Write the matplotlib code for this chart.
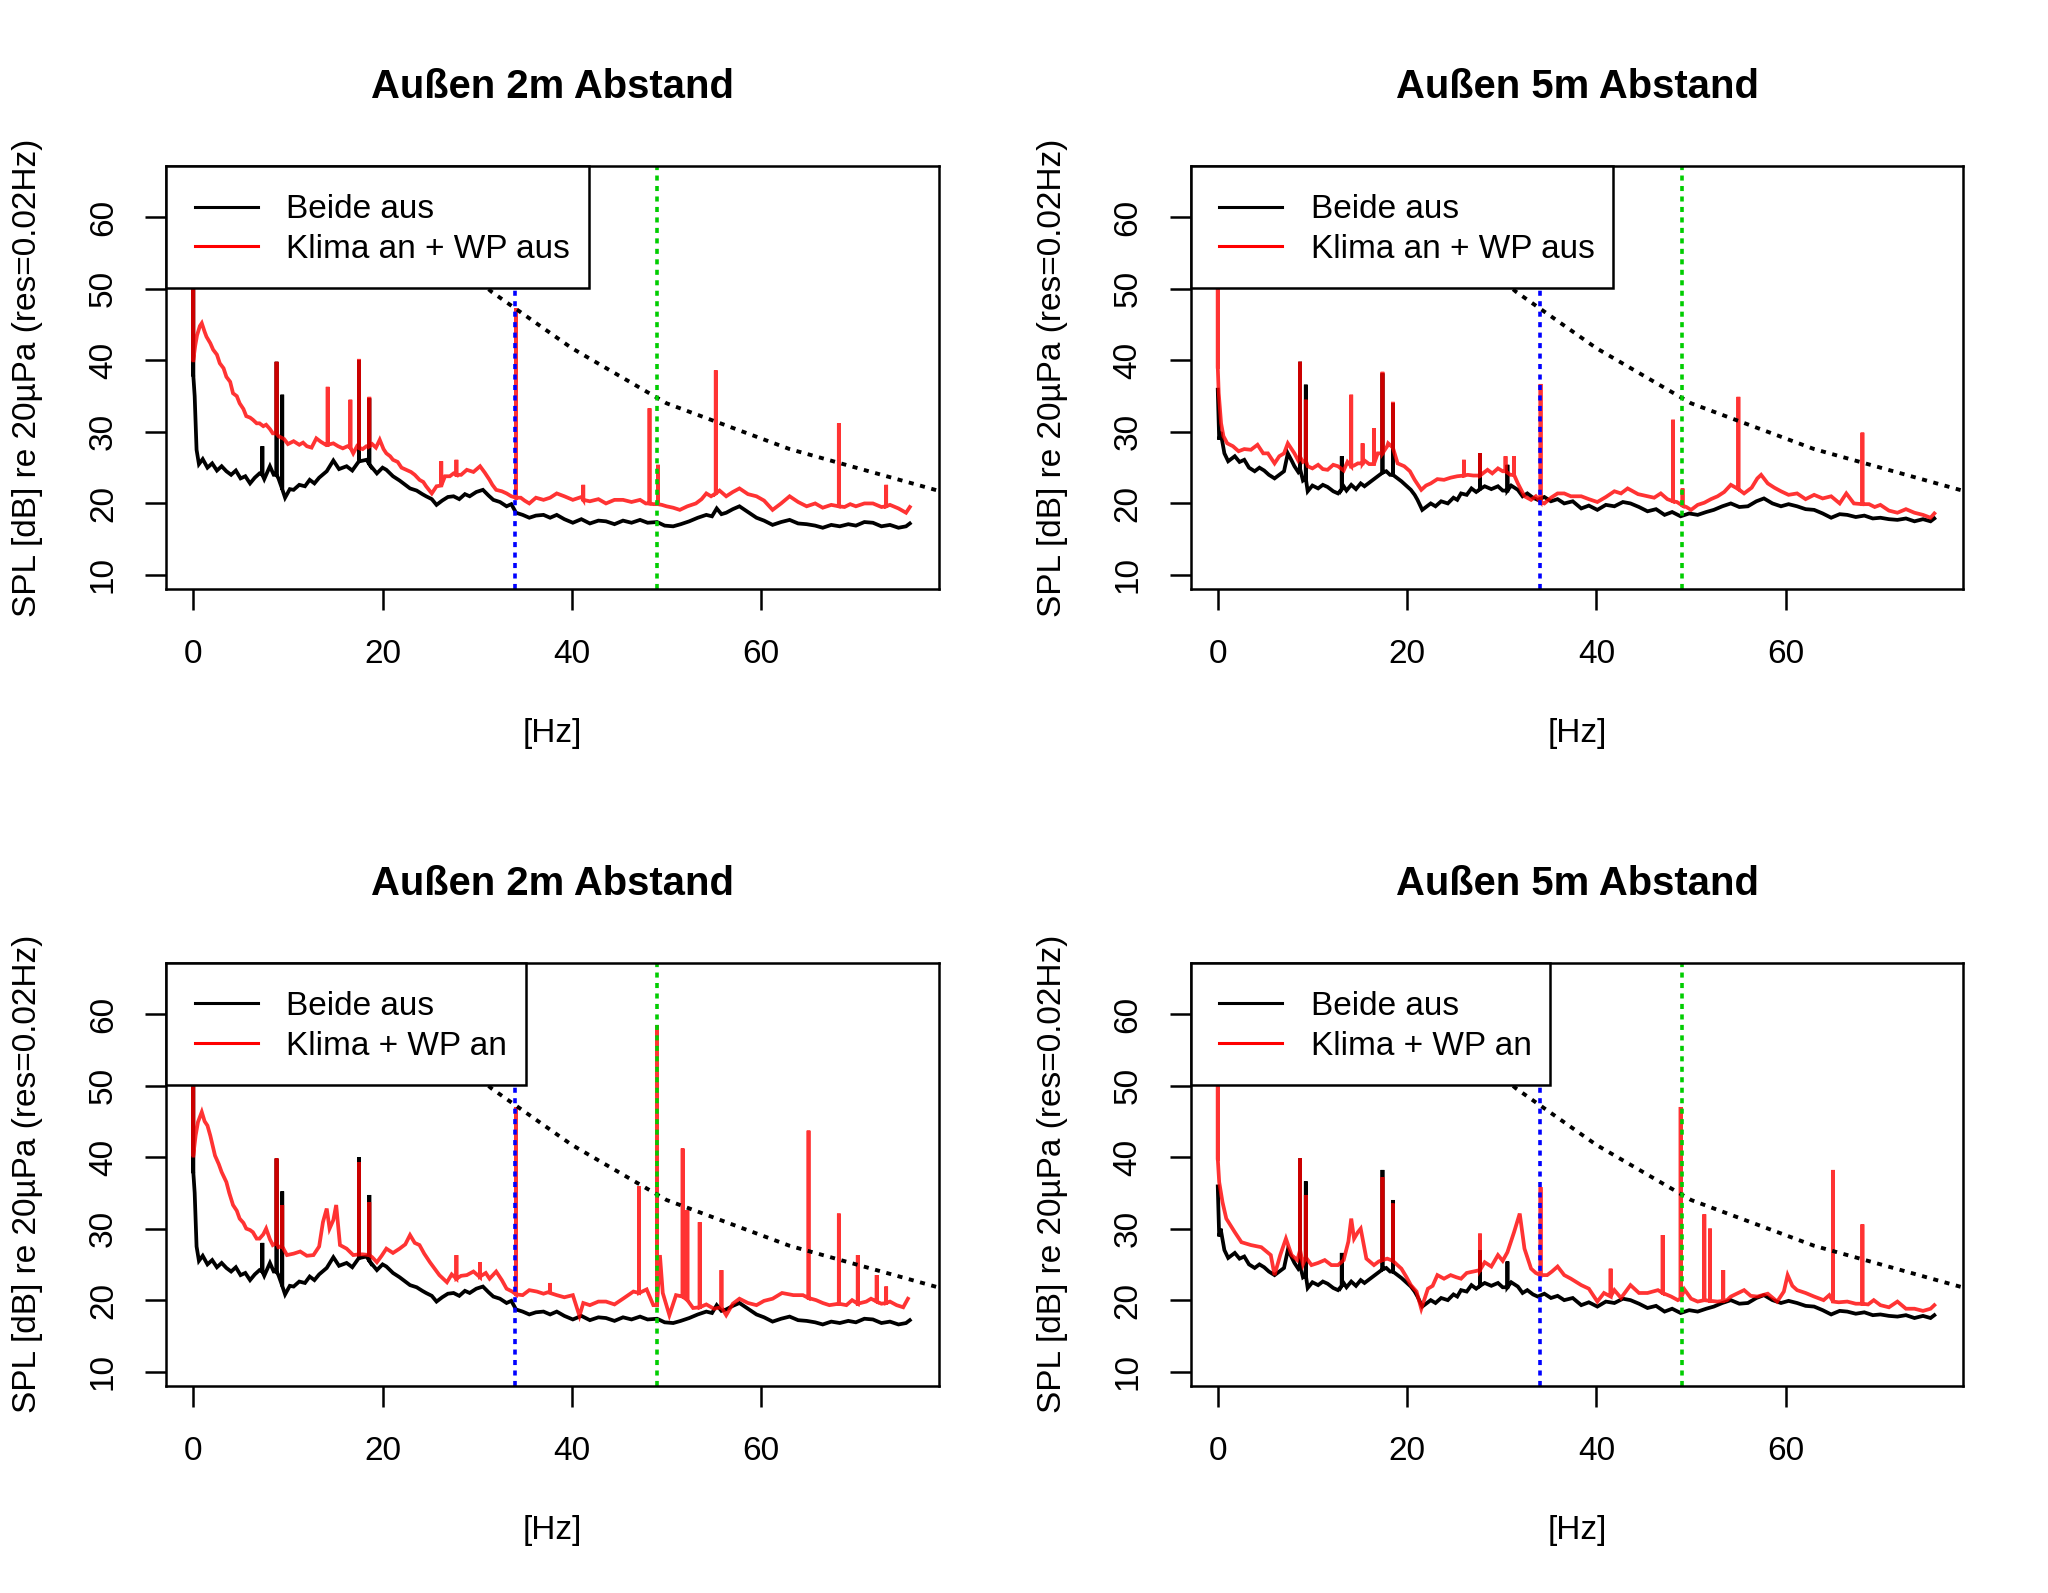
import numpy as np
import matplotlib
matplotlib.use("Agg")
import matplotlib.pyplot as plt
from matplotlib.lines import Line2D
from matplotlib.patches import Rectangle

plt.rcParams['font.family'] = ['Liberation Sans', 'DejaVu Sans']
plt.rcParams['font.size'] = 24

# Spektren (Frequenz [Hz], Pegel [dB]).
# Spitzen sind getrennt als (f, Fuss, Spitze) gespeichert.

# Referenz "Beide aus", 2 m
black2_f = [0.0, 0.15, 0.35, 0.6, 1.0, 1.5, 2.0, 2.5, 3.0, 3.5, 4.0, 4.5, 5.0, 5.5, 6.0, 6.5,
            7.0, 7.5, 8.1, 8.5, 9.0, 9.7, 10.2, 10.6, 11.2, 11.8, 12.3, 12.8, 13.3, 14.1, 14.8,
            15.4, 16.2, 16.8, 17.6, 18.3, 18.9, 19.4, 20.0, 20.4, 21.1, 21.8, 22.4, 22.9, 23.6,
            24.2, 24.6, 25.2, 25.7, 26.3, 26.9, 27.5, 28.1, 28.7, 29.2, 29.9, 30.6, 31.2, 31.7,
            32.4, 33.1, 33.6, 34.1, 34.8, 35.5, 36.2, 37.0, 37.7, 38.4, 39.2, 40.1, 41.0, 41.9,
            42.8, 43.6, 44.5, 45.4, 46.3, 47.2, 48.0, 49.0, 49.8, 50.7, 51.5, 52.4, 53.3, 54.2,
            54.8, 55.3, 55.8, 56.3, 57.0, 57.7, 58.6, 59.5, 60.3, 61.2, 62.1, 63.0, 63.9, 64.8,
            65.7, 66.5, 67.4, 68.3, 69.2, 70.0, 70.9, 71.8, 72.7, 73.6, 74.5, 75.3, 75.7]
black2_db = [38.0, 35.0, 27.5, 25.5, 26.2, 25.0, 25.6, 24.6, 25.2, 24.5, 24.0, 24.6, 23.5, 23.8,
             22.8, 23.6, 24.2, 23.4, 25.2, 24.0, 23.5, 20.8, 22.0, 21.9, 22.6, 22.4, 23.3, 22.8,
             23.6, 24.5, 26.0, 24.8, 25.2, 24.6, 25.9, 26.1, 25.0, 24.2, 25.0, 24.7, 23.8, 23.2,
             22.6, 22.1, 21.8, 21.3, 21.0, 20.6, 19.8, 20.4, 20.9, 21.0, 20.6, 21.3, 21.0, 21.6,
             21.9, 21.1, 20.5, 20.2, 19.6, 19.9, 18.7, 18.4, 18.0, 18.3, 18.4, 18.0, 18.4, 17.8,
             17.3, 17.8, 17.2, 17.6, 17.5, 17.1, 17.6, 17.3, 17.7, 17.3, 17.4, 16.9, 16.8, 17.1,
             17.5, 18.0, 18.4, 18.2, 19.3, 18.5, 18.7, 19.2, 19.6, 18.8, 18.0, 17.6, 17.0, 17.4,
             17.7, 17.2, 17.1, 16.9, 16.6, 17.0, 16.8, 17.1, 16.9, 17.4, 17.3, 16.8, 17.0, 16.6,
             16.8, 17.2]
black2_pk_f = [0.0, 7.3, 8.8, 9.4, 17.5, 18.6]
black2_pk_lo = [38.0, 24.0, 24.0, 22.0, 25.9, 25.5]
black2_pk_hi = [67.0, 28.0, 39.8, 35.2, 40.0, 34.7]

# Referenz "Beide aus", 5 m
black5_f = [0.0, 0.15, 0.3, 0.7, 1.1, 1.8, 2.3, 2.8, 3.3, 3.9, 4.4, 4.9, 5.4, 6.0, 6.5, 7.0,
            7.4, 7.8, 8.1, 8.5, 9.0, 9.5, 10.0, 10.6, 11.1, 11.6, 12.2, 12.7, 13.3, 13.6, 14.1,
            14.6, 15.1, 15.5, 16.2, 16.9, 17.8, 18.2, 18.9, 19.4, 19.9, 20.4, 20.8, 21.1, 21.6,
            22.0, 22.5, 23.0, 23.6, 24.3, 24.9, 25.3, 25.7, 26.3, 26.8, 27.3, 28.2, 28.9, 29.6,
            30.1, 31.0, 31.7, 32.2, 32.7, 33.3, 33.8, 34.5, 35.2, 35.9, 36.6, 37.5, 38.4, 39.2,
            40.1, 41.0, 41.9, 42.8, 43.6, 44.5, 45.4, 46.3, 47.2, 48.0, 48.9, 49.8, 50.7, 51.6,
            52.4, 53.3, 54.2, 55.1, 56.0, 56.9, 57.7, 58.6, 59.5, 60.3, 61.2, 62.1, 63.0, 63.9,
            64.8, 65.7, 66.5, 67.4, 68.3, 69.2, 70.0, 70.9, 71.8, 72.7, 73.6, 74.5, 75.3, 75.7]
black5_db = [35.9, 28.9, 30.0, 27.0, 25.9, 26.6, 25.8, 26.1, 25.0, 24.5, 25.0, 24.6, 24.0, 23.5,
             24.0, 24.5, 27.0, 26.0, 25.2, 24.4, 23.2, 21.7, 22.5, 22.1, 22.6, 22.3, 21.7, 21.4,
             22.4, 21.8, 22.6, 22.0, 22.8, 22.4, 23.1, 23.8, 24.5, 24.0, 23.6, 23.1, 22.5, 21.9,
             21.2, 20.5, 19.1, 19.5, 20.0, 19.6, 20.3, 20.0, 20.8, 20.5, 21.4, 21.2, 22.1, 21.6,
             22.4, 22.0, 22.4, 21.8, 22.5, 21.9, 21.0, 21.4, 20.8, 20.5, 20.9, 20.3, 20.6, 20.0,
             20.3, 19.3, 19.7, 19.1, 19.8, 19.6, 20.2, 20.0, 19.5, 18.9, 19.2, 18.4, 18.8, 18.2,
             18.6, 18.4, 18.8, 19.1, 19.6, 20.0, 19.5, 19.6, 20.3, 20.7, 20.0, 19.6, 19.9, 19.6,
             19.2, 19.1, 18.6, 18.0, 18.5, 18.4, 18.1, 18.3, 17.9, 18.0, 17.8, 17.7, 17.9, 17.5,
             17.8, 17.5, 17.9]
black5_pk_f = [8.7, 9.3, 13.1, 17.4, 18.5, 27.7, 30.6]
black5_pk_lo = [24.8, 23.5, 22.0, 24.3, 24.0, 22.0, 21.8]
black5_pk_hi = [39.8, 36.6, 26.6, 38.2, 34.0, 27.0, 25.4]

# "Klima an + WP aus", 2 m
red_a2_f = [0.0, 0.2, 0.4, 0.7, 0.9, 1.2, 1.4, 1.8, 2.1, 2.5, 2.8, 3.2, 3.5, 3.9, 4.2, 4.6, 4.9,
            5.3, 5.6, 6.0, 6.3, 6.7, 7.0, 7.4, 7.7, 8.1, 8.4, 9.0, 9.6, 10.0, 10.6, 11.2, 11.6,
            12.0, 12.5, 13.0, 13.5, 14.0, 14.8, 15.3, 15.8, 16.3, 16.9, 17.3, 17.9, 18.3, 18.9,
            19.3, 19.7, 20.1, 20.4, 20.8, 21.1, 21.6, 22.0, 22.5, 23.0, 23.4, 23.9, 24.3, 24.6,
            25.2, 25.7, 26.6, 27.1, 27.5, 28.3, 28.9, 29.6, 30.3, 30.8, 31.3, 31.6, 32.0, 32.6,
            33.1, 33.6, 34.6, 35.0, 35.5, 36.2, 37.0, 37.7, 38.4, 39.2, 40.1, 41.0, 41.9, 42.8,
            43.6, 44.5, 45.4, 46.3, 47.2, 47.8, 48.6, 49.5, 50.0, 50.7, 51.4, 52.2, 53.1, 53.7,
            54.2, 54.7, 55.6, 56.3, 57.0, 57.7, 58.6, 59.5, 60.3, 61.2, 62.1, 63.0, 63.9, 64.8,
            65.7, 66.5, 67.4, 68.8, 69.4, 70.0, 70.9, 71.8, 72.7, 73.6, 74.5, 75.3, 75.7]
red_a2_db = [40.0, 42.0, 43.5, 44.8, 45.2, 44.0, 43.3, 42.4, 41.5, 40.8, 39.6, 38.9, 37.7, 37.0,
             35.4, 35.0, 34.0, 33.2, 32.2, 32.0, 31.7, 31.2, 31.2, 30.8, 31.0, 30.4, 29.8, 29.4,
             29.0, 28.3, 28.7, 28.2, 28.5, 28.0, 27.8, 29.1, 28.6, 28.2, 28.4, 28.0, 27.7, 28.0,
             27.0, 28.0, 27.6, 28.0, 28.3, 27.8, 28.9, 27.6, 27.0, 26.6, 26.1, 25.8, 25.0, 24.7,
             24.4, 24.0, 23.3, 23.0, 22.4, 21.4, 22.4, 23.8, 23.8, 24.2, 24.0, 24.7, 24.4, 25.2,
             24.3, 23.3, 22.6, 21.9, 21.7, 21.4, 21.0, 20.8, 20.4, 20.0, 20.8, 20.5, 20.8, 21.4,
             21.0, 20.5, 20.9, 20.3, 20.6, 20.0, 20.5, 20.5, 20.2, 20.5, 20.0, 19.9, 19.8, 19.6,
             19.4, 19.1, 19.6, 20.0, 20.6, 21.4, 21.0, 21.8, 21.0, 21.6, 22.1, 21.3, 21.0, 20.4,
             19.1, 20.0, 21.0, 20.2, 19.6, 20.0, 19.4, 19.8, 19.5, 19.9, 19.6, 20.0, 20.0, 19.5,
             19.8, 19.3, 18.7, 19.5]
red_a2_pk_f = [0.0, 8.8, 14.2, 16.6, 17.5, 18.6, 26.2, 27.8, 34.1, 41.2, 48.2, 49.1, 55.2, 68.2, 73.2]
red_a2_pk_lo = [40.0, 29.8, 28.2, 27.8, 27.8, 28.0, 22.5, 24.0, 20.8, 20.5, 20.0, 19.9, 21.4, 19.6, 19.6]
red_a2_pk_hi = [67.0, 39.8, 36.3, 34.5, 40.2, 34.9, 25.9, 26.1, 47.3, 22.6, 33.3, 25.4, 38.6, 31.2, 22.6]

# "Klima an + WP aus", 5 m
red_a5_f = [0.0, 0.1, 0.35, 0.6, 1.0, 1.6, 2.2, 2.8, 3.5, 4.2, 4.8, 5.3, 5.7, 6.0, 6.5, 7.0,
            7.4, 8.1, 8.5, 9.0, 9.5, 10.0, 10.6, 11.1, 11.6, 12.2, 12.7, 13.3, 13.7, 14.4, 14.8,
            15.5, 16.0, 16.9, 17.9, 18.0, 19.0, 19.7, 20.3, 20.8, 21.5, 22.0, 22.5, 23.2, 23.9,
            24.6, 25.3, 26.4, 27.0, 28.5, 29.0, 29.6, 30.1, 30.9, 31.7, 32.4, 33.1, 33.6, 34.5,
            35.2, 35.9, 36.6, 37.3, 38.4, 39.2, 40.1, 41.0, 41.9, 42.6, 43.3, 44.4, 45.4, 46.1,
            46.8, 47.5, 48.5, 49.5, 50.0, 50.7, 51.4, 52.1, 52.8, 53.5, 54.2, 55.6, 56.4, 57.0,
            57.4, 58.1, 58.8, 59.5, 60.3, 61.2, 62.1, 63.0, 63.9, 64.8, 65.7, 66.4, 67.2, 68.8,
            69.4, 70.0, 70.9, 71.8, 72.7, 73.6, 74.5, 75.3, 75.7]
red_a5_db = [39.1, 35.4, 31.2, 29.4, 28.4, 28.0, 27.3, 27.6, 27.5, 28.2, 27.0, 27.0, 26.2, 25.6,
             26.6, 27.0, 28.4, 27.0, 26.0, 25.8, 25.2, 24.9, 25.4, 24.8, 24.7, 25.4, 25.2, 24.6,
             25.8, 25.3, 25.6, 26.0, 25.5, 27.0, 28.0, 28.4, 25.6, 25.2, 24.5, 23.3, 21.9, 22.5,
             22.8, 23.4, 23.3, 23.6, 23.8, 24.0, 23.9, 24.7, 24.2, 24.9, 24.5, 24.0, 22.8, 21.0,
             20.5, 21.0, 20.0, 20.8, 21.4, 21.4, 21.0, 21.0, 20.6, 20.2, 20.9, 21.7, 21.4, 22.1,
             21.3, 21.0, 20.8, 21.4, 20.6, 20.2, 19.5, 19.1, 19.8, 20.1, 20.6, 21.0, 21.6, 22.6,
             21.4, 22.2, 23.5, 24.0, 22.8, 22.2, 21.7, 21.2, 21.4, 20.6, 21.2, 20.7, 21.0, 20.0,
             21.4, 20.0, 19.9, 19.5, 19.8, 19.0, 18.7, 19.2, 18.7, 18.4, 18.0, 18.6]
red_a5_pk_f = [0.0, 8.7, 9.3, 14.1, 15.3, 16.5, 17.4, 18.5, 26.0, 27.7, 30.4, 31.3, 34.1, 48.1, 49.1,
               55.0, 68.1]
red_a5_pk_lo = [39.1, 26.5, 26.0, 25.2, 25.6, 25.5, 27.0, 27.8, 23.9, 23.9, 24.5, 24.0, 20.2, 20.3,
                19.7, 22.0, 19.9]
red_a5_pk_hi = [67.0, 39.8, 34.5, 35.2, 28.4, 30.5, 38.4, 34.2, 26.1, 27.0, 26.6, 26.6, 36.7, 31.7,
                22.1, 34.9, 29.9]

# "Klima + WP an", 2 m
red_b2_f = [0.0, 0.25, 0.5, 0.9, 1.2, 1.5, 1.8, 2.3, 2.7, 3.0, 3.5, 3.8, 4.2, 4.6, 4.9, 5.3,
            5.6, 6.0, 6.3, 6.7, 7.0, 7.4, 7.7, 8.1, 8.4, 9.0, 9.9, 10.6, 11.3, 12.0, 12.7, 13.3,
            13.7, 14.1, 14.4, 14.8, 15.1, 15.5, 16.2, 16.9, 17.9, 18.9, 19.4, 19.9, 20.4, 21.1,
            21.8, 22.4, 22.9, 23.4, 23.9, 24.4, 25.0, 25.5, 26.0, 26.8, 27.3, 28.3, 28.9, 29.6,
            30.3, 30.9, 31.3, 32.0, 32.6, 33.1, 33.7, 34.8, 35.5, 36.3, 37.0, 37.7, 38.4, 39.2,
            40.1, 40.8, 41.2, 41.9, 42.8, 43.6, 44.5, 45.4, 46.5, 47.9, 48.6, 49.3, 49.6, 50.3,
            51.0, 52.8, 54.2, 55.0, 56.3, 57.0, 57.7, 58.6, 59.5, 60.3, 61.2, 62.2, 63.4, 64.4,
            65.8, 66.5, 67.2, 69.0, 69.6, 71.1, 71.6, 72.7, 73.6, 74.3, 75.0, 75.5]
red_b2_db = [40.2, 43.0, 44.9, 46.3, 45.0, 44.4, 43.0, 40.2, 39.0, 37.9, 36.5, 35.0, 33.3, 32.5,
             31.4, 30.8, 30.0, 29.8, 29.5, 28.6, 28.6, 29.2, 30.0, 28.5, 27.7, 27.4, 26.3, 26.5,
             26.8, 26.2, 26.3, 27.5, 30.9, 32.8, 30.0, 31.2, 33.3, 27.7, 27.2, 26.3, 26.4, 26.0,
             25.3, 26.2, 27.2, 26.6, 27.2, 27.8, 29.1, 28.0, 27.7, 26.5, 25.3, 24.4, 23.5, 22.5,
             23.6, 23.4, 23.5, 24.0, 23.2, 23.8, 23.0, 24.0, 22.8, 21.6, 21.2, 20.7, 21.4, 21.2,
             20.9, 21.2, 20.7, 20.4, 20.7, 17.8, 19.6, 19.3, 19.8, 19.8, 19.4, 20.2, 21.2, 21.5,
             19.3, 26.3, 21.0, 17.9, 20.7, 18.9, 19.4, 18.8, 17.9, 19.5, 20.2, 19.6, 19.3, 19.9,
             20.2, 21.0, 20.7, 20.7, 20.0, 19.6, 19.3, 19.3, 20.0, 19.8, 20.2, 19.5, 19.8, 19.3,
             19.0, 20.2]
red_b2_pk_f = [0.0, 8.8, 9.4, 17.5, 18.6, 27.8, 30.3, 34.1, 37.7, 47.1, 49.0, 51.7, 52.2, 53.5,
               55.8, 65.0, 68.2, 70.2, 72.2, 73.2]
red_b2_pk_lo = [40.2, 28.0, 27.5, 26.4, 26.3, 23.0, 23.3, 20.8, 21.0, 21.0, 19.3, 20.5, 20.0, 19.0,
                19.0, 20.3, 19.5, 19.5, 19.8, 19.6]
red_b2_pk_hi = [67.0, 39.8, 33.3, 39.3, 33.7, 26.3, 25.3, 47.0, 22.4, 35.9, 58.4, 41.2, 32.6, 30.9,
                24.2, 43.7, 32.1, 26.3, 23.5, 21.9]

# "Klima + WP an", 5 m
red_b5_f = [0.0, 0.15, 0.5, 0.9, 1.8, 2.5, 3.5, 4.6, 5.6, 6.0, 6.6, 7.2, 7.8, 8.4, 9.0, 9.9,
            10.6, 11.3, 12.0, 12.7, 13.3, 13.8, 14.1, 14.4, 14.8, 15.1, 15.7, 16.5, 17.0, 17.9,
            18.9, 19.4, 19.9, 20.4, 21.0, 21.5, 22.2, 22.7, 23.2, 23.9, 24.6, 25.2, 25.7, 26.3,
            27.0, 28.2, 28.9, 29.6, 30.1, 30.6, 31.3, 31.9, 32.4, 33.1, 33.6, 34.8, 35.3, 35.9,
            36.6, 37.3, 38.4, 39.2, 40.1, 40.8, 41.9, 42.6, 43.6, 44.5, 45.4, 46.5, 47.9, 48.6,
            49.3, 50.0, 50.7, 52.8, 53.8, 54.2, 55.6, 56.3, 57.0, 58.1, 59.1, 59.8, 60.2, 60.7,
            61.2, 62.1, 63.0, 64.0, 64.6, 65.6, 66.5, 67.4, 68.7, 69.3, 70.0, 70.9, 71.8, 72.7,
            73.6, 74.5, 75.3, 75.7]
red_b5_db = [39.8, 36.5, 33.7, 31.4, 29.5, 28.1, 27.7, 27.4, 26.3, 23.5, 26.3, 28.6, 26.3, 25.6,
             25.0, 24.9, 25.2, 25.6, 24.9, 24.9, 25.6, 28.2, 31.4, 28.6, 29.5, 30.0, 25.8, 24.9,
             25.4, 25.8, 25.0, 24.4, 23.3, 22.1, 21.2, 18.8, 21.6, 22.0, 23.5, 23.0, 23.5, 23.2,
             23.0, 23.8, 24.0, 25.3, 24.7, 26.3, 25.5, 26.7, 29.5, 32.1, 27.2, 24.4, 23.8, 23.5,
             24.0, 24.7, 23.5, 23.0, 22.1, 21.6, 19.8, 21.0, 21.4, 20.3, 22.1, 21.0, 21.0, 21.4,
             20.5, 20.0, 21.5, 20.2, 19.8, 19.8, 20.0, 20.5, 21.4, 20.6, 20.5, 20.9, 19.8, 21.2,
             23.5, 22.0, 21.4, 21.0, 20.5, 20.0, 20.7, 19.7, 19.8, 19.5, 19.4, 20.0, 19.3, 19.0,
             19.8, 18.8, 18.8, 18.5, 18.8, 19.3]
red_b5_pk_f = [0.0, 8.7, 9.3, 17.4, 18.5, 27.7, 34.1, 41.5, 47.0, 48.9, 51.4, 52.0, 53.4, 65.0, 68.1]
red_b5_pk_lo = [39.8, 27.0, 26.0, 25.6, 25.5, 24.2, 23.5, 20.5, 21.0, 20.2, 20.0, 19.9, 19.9, 19.8, 19.5]
red_b5_pk_hi = [67.0, 39.8, 34.7, 37.2, 33.5, 29.3, 35.8, 24.4, 29.1, 47.0, 32.0, 30.0, 24.2, 38.2, 30.6]

# Hoerschwellen-Kurve (gepunktet)
thr_f = [20, 25, 31.5, 40, 50, 63, 80]
thr_db = [65.0, 57.0, 49.6, 41.7, 34.0, 27.6, 21.3]

mark_blue_hz = 34
mark_green_hz = 49

titles = ["Außen 2m Abstand", "Außen 5m Abstand", "Außen 2m Abstand", "Außen 5m Abstand"]
legend_labels = [["Beide aus", "Klima an + WP aus"], ["Beide aus", "Klima an + WP aus"],
                 ["Beide aus", "Klima + WP an"], ["Beide aus", "Klima + WP an"]]
x_ticks = [0, 20, 40, 60]
y_ticks = [10, 20, 30, 40, 50, 60]

RED = (1.0, 0.0, 0.0, 0.8)
GREEN = "#00CD00"
LW = 2.7


def with_peaks(f, db, pk_f, pk_lo, pk_hi):
    """Spitzen als senkrechte Ausschlaege in die Kurve einsetzen."""
    xs = list(f)
    ys = list(db)
    for p, lo, hi in zip(pk_f, pk_lo, pk_hi):
        xs += [p, p, p]
        ys += [lo, hi, lo]
    xs = np.array(xs)
    ys = np.array(ys)
    order = np.argsort(xs, kind="stable")
    return xs[order], ys[order]


panels = [
    ((black2_f, black2_db, black2_pk_f, black2_pk_lo, black2_pk_hi),
     (red_a2_f, red_a2_db, red_a2_pk_f, red_a2_pk_lo, red_a2_pk_hi)),
    ((black5_f, black5_db, black5_pk_f, black5_pk_lo, black5_pk_hi),
     (red_a5_f, red_a5_db, red_a5_pk_f, red_a5_pk_lo, red_a5_pk_hi)),
    ((black2_f, black2_db, black2_pk_f, black2_pk_lo, black2_pk_hi),
     (red_b2_f, red_b2_db, red_b2_pk_f, red_b2_pk_lo, red_b2_pk_hi)),
    ((black5_f, black5_db, black5_pk_f, black5_pk_lo, black5_pk_hi),
     (red_b5_f, red_b5_db, red_b5_pk_f, red_b5_pk_lo, red_b5_pk_hi)),
]

fig = plt.figure(figsize=(20.48, 15.93), dpi=100)
rects = [[0.08105, 0.63026, 0.37744, 0.26554],
         [0.58130, 0.63026, 0.37744, 0.26554],
         [0.08105, 0.13013, 0.37744, 0.26554],
         [0.58130, 0.13013, 0.37744, 0.26554]]
# Breite des Legendenkastens (Achsenanteil), R-artig
legend_box_w = [0.5472, 0.5472, 0.4653, 0.4653]

for i, (rect, (blk, red)) in enumerate(zip(rects, panels)):
    ax = fig.add_axes(rect)
    bx, by = with_peaks(*blk)
    rx, ry = with_peaks(*red)
    ax.plot(bx, by, color="black", lw=LW, solid_joinstyle="miter")
    ax.plot(rx, ry, color=RED, lw=LW, solid_joinstyle="miter")
    ax.plot(thr_f, thr_db, color="black", lw=2.8, ls=(0, (1.3, 1.7)))
    ax.axvline(mark_blue_hz, color="blue", lw=2.6, ls=(0, (1.4, 1.5)))
    ax.axvline(mark_green_hz, color=GREEN, lw=2.6, ls=(0, (1.4, 1.5)))

    ax.set_xlim(-2.88, 78.78)
    ax.set_ylim(8.04, 67.17)
    ax.set_xticks(x_ticks)
    ax.set_yticks(y_ticks)
    ax.tick_params(direction="out", length=14.9, width=1.8, labelsize=24)
    ax.tick_params(axis="x", pad=21.0)
    ax.tick_params(axis="y", pad=19.0)
    plt.setp(ax.get_yticklabels(), rotation=90, va="center")
    for sp in ax.spines.values():
        sp.set_linewidth(1.8)

    ax.set_title(titles[i], fontsize=28.8, fontweight="bold", pad=49)
    ax.set_xlabel("[Hz]", fontsize=24)
    ax.xaxis.set_label_coords(0.5, -0.305)
    ax.set_ylabel("SPL [dB] re 20µPa (res=0.02Hz)", fontsize=24)
    ax.yaxis.set_label_coords(-0.159, 0.5)

    # Legendenkasten wie in R: weiss gefuellt, schwarzer Rahmen
    ax.add_patch(Rectangle((0.0, 0.711), legend_box_w[i], 0.289, transform=ax.transAxes,
                           facecolor="white", edgecolor="black", lw=1.8, zorder=4.5,
                           clip_on=False))
    handles = [Line2D([], [], color="black", lw=2.2), Line2D([], [], color="red", lw=2.2)]
    leg = ax.legend(handles, legend_labels[i], loc="upper left", bbox_to_anchor=(0.0375, 0.933),
                    borderaxespad=0, borderpad=0, frameon=False,
                    handlelength=1.88, handletextpad=0.86, labelspacing=0.26, fontsize=24)
    leg.set_zorder(5)

fig.savefig("out.png", dpi=100)
